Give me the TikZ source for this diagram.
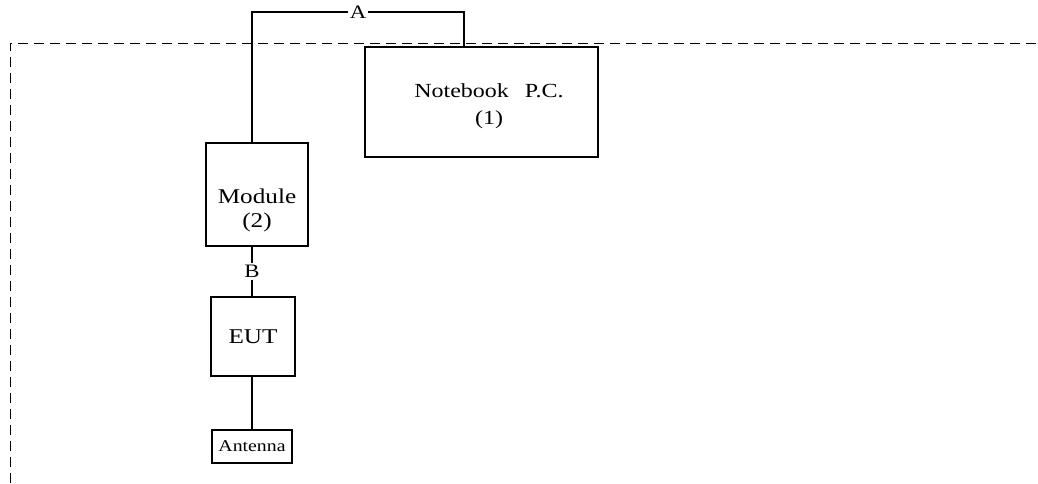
\documentclass[tikz,border=0pt]{standalone}
\usepackage{fontspec}
\setmainfont[FakeStretch=1.2]{Liberation Serif}
\begin{document}
\begin{tikzpicture}[
  x=1pt, y=-1pt,
  every node/.style={draw, rectangle, line width=1.2pt, align=center, inner sep=0pt, outer sep=0pt},
  box/.style={font=\fontsize{21}{24}\selectfont},
  txt/.style={draw=none, font=\fontsize{21}{24}\selectfont},
  lbl/.style={draw=none, fill=white, inner sep=2pt, font=\fontsize{19}{20}\selectfont},
  link/.style={line width=1.2pt}
]
\useasboundingbox (0,0) rectangle (1038,483);

% test setup frame
\draw[dashed, dash pattern=on 10pt off 6pt, line width=0.8pt] (10,483) -- (10,43) -- (1038,43);

\node[box, minimum width=233pt, minimum height=110pt] (nb) at (481.5,102) {};
\node[txt, font=\fontsize{20}{27}\selectfont] (nbtxt) at (489,106) {Notebook\hspace{0.8em}P.C.\\(1)};
\node[box, minimum width=102pt, minimum height=103pt] (module) at (257,194.5) {};
\node[txt] (moduletxt) at (257,210) {Module\\(2)};
\node[box, minimum width=84pt, minimum height=79pt] (eut) at (253,336.5) {EUT};
\node[box, minimum width=80pt, minimum height=33pt, font=\fontsize{16.5}{18}\selectfont] (ant) at (252,446.5) {Antenna};

\coordinate (spine) at (252,0);
\coordinate (nbin) at (464,47);
\coordinate (linkA) at (358,12);

% cables
\draw[link] (module.north -| spine) |- (linkA) node[lbl] {A} -| (nbin);
\draw[link] (module.south -| spine) -- node[lbl] {B} (eut.north -| spine);
\draw[link] (eut.south -| spine) -- (ant.north -| spine);

\end{tikzpicture}
\end{document}
